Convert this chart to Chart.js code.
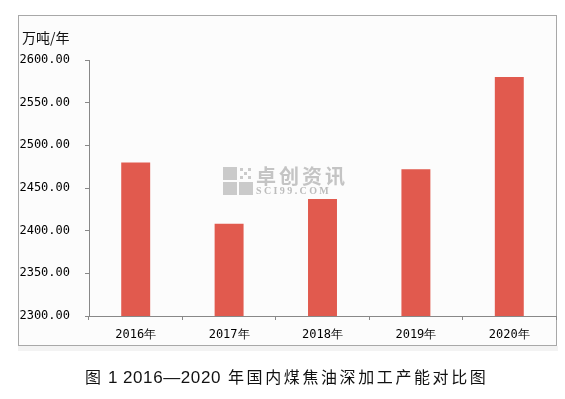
<!DOCTYPE html>
<html>
<head>
<meta charset="utf-8">
<script src="https://cdn.jsdelivr.net/npm/chart.js@4/dist/chart.umd.min.js"></script>
<style>
  html, body { margin: 0; padding: 0; background: #fff; }
  #wrap { width: 565px; height: 399px; position: relative; }
</style>
</head>
<body>
<div id="wrap"><canvas id="canvas"></canvas></div>
<script>
const YEARS = ["2016年", "2017年", "2018年", "2019年", "2020年"];
const CAPACITY = [2480, 2408, 2437, 2472, 2580];
const Y_MIN = 2300;
const Y_MAX = 2600;
const Y_STEP = 50;
const UNIT = "万吨/年";
const CAPTION_FIG = ["图", "1"];
const CAPTION_YEARS = "2016—2020";
const CAPTION_TEXT = "年国内煤焦油深加工产能对比图";

const MONO = "'DejaVu Sans Mono', monospace";
const CJK = "'Noto Sans CJK SC', 'Noto Sans', sans-serif";
const SANS = "'Liberation Sans', Arial, sans-serif";

// frame, unit label, watermark and caption
let decor = {
    id: 'decor',
    beforeDraw(chart) {
        let ctx = chart.ctx;
        ctx.save();
        ctx.fillStyle = '#f3f3f3';
        ctx.fillRect(18, 346, 540, 5);
        ctx.fillStyle = '#fcfcfc';
        ctx.fillRect(18, 15, 538, 330);
        ctx.strokeStyle = '#a8a8a8';
        ctx.lineWidth = 1;
        ctx.strokeRect(18.5, 15.5, 538, 330);

        ctx.fillStyle = '#111';
        ctx.font = "14px " + CJK;
        ctx.textBaseline = 'middle';
        ctx.fillText(UNIT, 22, 38);
        ctx.restore();
    },
    beforeDatasetsDraw(chart) {
        let ctx = chart.ctx;
        ctx.save();
        ctx.fillStyle = '#cacaca';
        ctx.fillRect(223, 167, 14, 13);
        ctx.fillRect(223, 182, 14, 13);
        ctx.fillRect(239, 182, 14, 13);
        for (let i = 0; i < 3; i++) {
            for (let j = 0; j < 3; j++) {
                if ((i + j) % 2 === 0) ctx.fillRect(240 + i * 4, 168 + j * 4, 3, 3);
            }
        }
        ctx.fillStyle = '#c4c4c4';
        ctx.font = "bold 20px " + CJK;
        ctx.letterSpacing = '3px';
        ctx.textBaseline = 'alphabetic';
        ctx.fillText("卓创资讯", 256, 184);
        ctx.fillStyle = '#bcbcbc';
        ctx.font = "bold 10px 'Liberation Serif', serif";
        ctx.letterSpacing = '2.4px';
        ctx.fillText("SCI99.COM", 256, 194);
        ctx.restore();
    },
    afterDraw(chart) {
        let ctx = chart.ctx;
        ctx.save();
        ctx.fillStyle = '#111';
        ctx.textBaseline = 'middle';
        ctx.font = "16px " + CJK;
        ctx.fillText(CAPTION_FIG[0], 85, 377);
        ctx.font = "17px " + SANS;
        ctx.fillText(CAPTION_FIG[1], 108, 378);
        ctx.letterSpacing = '0.6px';
        ctx.fillText(CAPTION_YEARS, 123, 378);
        ctx.font = "16px " + CJK;
        ctx.letterSpacing = '2.6px';
        ctx.fillText(CAPTION_TEXT, 228, 377);
        ctx.restore();
    }
};

let ctx = document.getElementById('canvas').getContext('2d');
let chart = new Chart(ctx, {
    type: 'bar',
    data: {
        labels: YEARS,
        datasets: [{
            label: UNIT,
            data: CAPACITY,
            backgroundColor: '#e15a4e',
            borderWidth: 0,
            barPercentage: 0.31,
            categoryPercentage: 1
        }]
    },
    options: {
        responsive: true,
        maintainAspectRatio: false,
        animation: false,
        layout: { padding: { top: 60, right: 9, left: 0, bottom: 0 } },
        plugins: {
            legend: { display: false },
            tooltip: { enabled: false }
        },
        scales: {
            x: {
                afterFit(scale) { scale.height = 83; },
                grid: {
                    offset: true,
                    drawOnChartArea: false,
                    tickLength: 4,
                    color: '#888'
                },
                border: { color: '#888' },
                ticks: {
                    color: '#000',
                    padding: 8,
                    font: { family: MONO, size: 12 }
                }
            },
            y: {
                min: Y_MIN,
                max: Y_MAX,
                afterFit(scale) { scale.width = 89; },
                grid: {
                    drawOnChartArea: false,
                    tickLength: 4,
                    color: '#888'
                },
                border: { color: '#888' },
                ticks: {
                    stepSize: Y_STEP,
                    color: '#000',
                    padding: 15,
                    font: { family: MONO, size: 12 },
                    callback: (v) => v.toFixed(2)
                }
            }
        }
    },
    plugins: [decor]
});
</script>
</body>
</html>
